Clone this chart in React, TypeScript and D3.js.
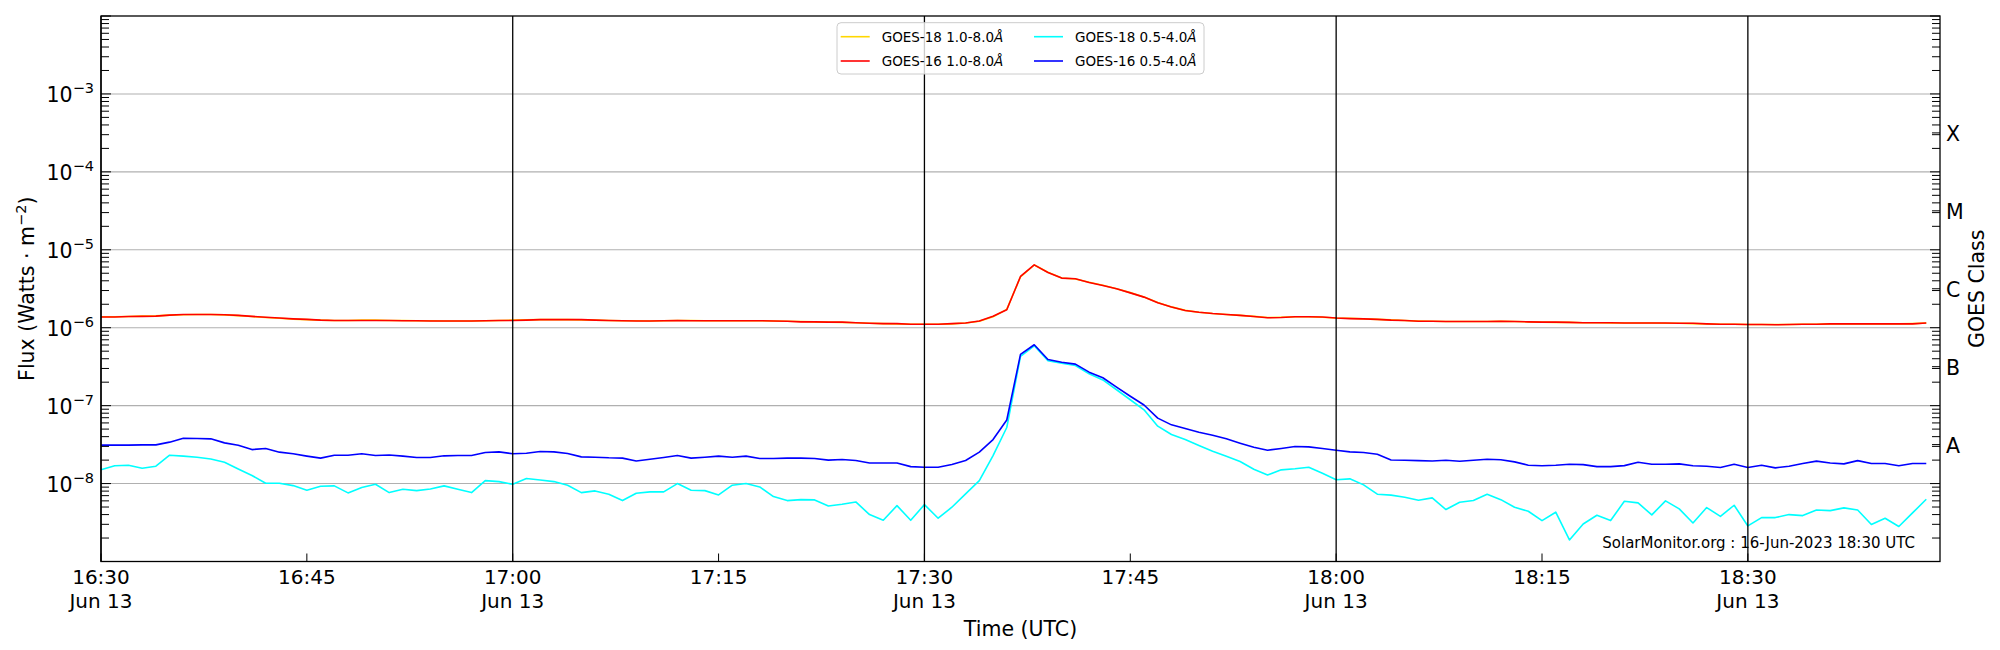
import React from "react";
import * as d3 from "d3";

// ---- time axis (1-minute cadence) ----
const START_UTC = "2023-06-13T16:30:00Z";
const END_UTC = "2023-06-13T18:44:00Z";
const CADENCE_MS = 60000;

// ---- series (mantissas; multiply by the unit) ----
const LONG_UNIT = 1e-6; // W m^-2
const G16_SHORT_UNIT = 1e-8;
const G18_SHORT_UNIT = 1e-9;

// GOES-18 1.0-8.0 Å (x1e-6)
const goes18Long = [
  1.38, 1.38, 1.39, 1.41, 1.42, 1.45, 1.47, 1.48, 1.48, 1.46,
  1.43, 1.39, 1.35, 1.32, 1.29, 1.27, 1.25, 1.24, 1.24, 1.25,
  1.25, 1.24, 1.24, 1.23, 1.23, 1.22, 1.22, 1.22, 1.23, 1.24,
  1.25, 1.26, 1.27, 1.27, 1.27, 1.26, 1.25, 1.24, 1.23, 1.23,
  1.22, 1.23, 1.24, 1.24, 1.23, 1.23, 1.23, 1.23, 1.23, 1.22,
  1.21, 1.2, 1.19, 1.18, 1.17, 1.16, 1.14, 1.13, 1.12, 1.11,
  1.11, 1.11, 1.12, 1.15, 1.21, 1.38, 1.72, 4.5, 6.38, 5.15,
  4.35, 4.22, 3.83, 3.5, 3.17, 2.82, 2.48, 2.11, 1.85, 1.67,
  1.58, 1.52, 1.48, 1.44, 1.4, 1.35, 1.36, 1.38, 1.38, 1.36,
  1.33, 1.32, 1.3, 1.28, 1.26, 1.24, 1.22, 1.21, 1.2, 1.2,
  1.2, 1.2, 1.21, 1.2, 1.19, 1.18, 1.17, 1.17, 1.16, 1.16,
  1.15, 1.15, 1.15, 1.15, 1.14, 1.14, 1.13, 1.12, 1.11, 1.11,
  1.1, 1.1, 1.1, 1.1, 1.11, 1.11, 1.12, 1.12, 1.12, 1.12,
  1.12, 1.12, 1.13, 1.15,
];

// GOES-16 1.0-8.0 Å (x1e-6)
const goes16Long = [
  1.37, 1.37, 1.39, 1.4, 1.41, 1.45, 1.48, 1.48, 1.48, 1.47,
  1.44, 1.4, 1.36, 1.33, 1.3, 1.28, 1.25, 1.24, 1.24, 1.24,
  1.24, 1.24, 1.23, 1.23, 1.22, 1.22, 1.22, 1.22, 1.23, 1.24,
  1.24, 1.25, 1.27, 1.27, 1.27, 1.27, 1.25, 1.24, 1.23, 1.22,
  1.22, 1.23, 1.24, 1.23, 1.23, 1.23, 1.23, 1.23, 1.23, 1.22,
  1.21, 1.19, 1.19, 1.18, 1.18, 1.16, 1.14, 1.13, 1.13, 1.11,
  1.11, 1.11, 1.13, 1.15, 1.22, 1.4, 1.7, 4.55, 6.41, 5.12,
  4.33, 4.24, 3.81, 3.48, 3.16, 2.8, 2.47, 2.09, 1.84, 1.66,
  1.58, 1.52, 1.48, 1.44, 1.39, 1.34, 1.35, 1.38, 1.38, 1.37,
  1.33, 1.31, 1.3, 1.28, 1.25, 1.24, 1.21, 1.21, 1.2, 1.2,
  1.2, 1.2, 1.21, 1.2, 1.19, 1.18, 1.18, 1.17, 1.16, 1.16,
  1.16, 1.15, 1.15, 1.15, 1.15, 1.14, 1.14, 1.12, 1.11, 1.11,
  1.1, 1.1, 1.09, 1.1, 1.11, 1.11, 1.12, 1.12, 1.12, 1.12,
  1.12, 1.12, 1.12, 1.15,
];

// GOES-18 0.5-4.0 Å (x1e-9)
const goes18Short = [
  15.0, 16.9, 17.2, 15.7, 16.7, 23.1, 22.5, 21.8, 20.7, 18.8,
  15.4, 12.7, 10.1, 10.1, 9.42, 8.2, 9.25, 9.34, 7.59, 8.89,
  9.8, 7.66, 8.45, 8.12, 8.53, 9.34, 8.45, 7.66, 10.9, 10.6,
  9.8, 11.6, 11.1, 10.6, 9.53, 7.66, 8.05, 7.3, 6.05, 7.52,
  7.82, 7.82, 10.0, 8.2, 8.12, 7.15, 9.53, 10.0, 9.06, 6.81,
  6.05, 6.22, 6.17, 5.16, 5.42, 5.81, 4.0, 3.38, 5.21, 3.38,
  5.37, 3.59, 4.97, 7.36, 10.9, 22.9, 52.4, 429, 586, 376,
  351, 327, 256, 214, 160, 119, 88.3, 54.5, 42.6, 36.7,
  30.8, 26.0, 22.4, 19.2, 15.3, 12.9, 15.0, 15.5, 16.2, 13.6,
  11.2, 11.5, 9.62, 7.31, 7.1, 6.69, 6.11, 6.55, 4.64, 5.76,
  6.05, 7.3, 6.22, 4.97, 4.41, 3.35, 4.29, 1.89, 3.03, 3.92,
  3.35, 5.93, 5.65, 3.96, 6.0, 4.73, 3.12, 4.92, 3.8, 5.27,
  2.86, 3.66, 3.66, 4.0, 3.88, 4.59, 4.5, 4.88, 4.59, 2.99,
  3.59, 2.81, 4.2, 6.3,
];

// GOES-16 0.5-4.0 Å (x1e-8)
const goes16Short = [
  3.11, 3.11, 3.11, 3.14, 3.14, 3.4, 3.82, 3.78, 3.75, 3.33,
  3.11, 2.73, 2.82, 2.53, 2.41, 2.25, 2.12, 2.31, 2.31, 2.41,
  2.29, 2.33, 2.25, 2.16, 2.16, 2.27, 2.29, 2.29, 2.5, 2.55,
  2.41, 2.45, 2.58, 2.55, 2.43, 2.2, 2.18, 2.14, 2.12, 1.95,
  2.05, 2.16, 2.29, 2.12, 2.18, 2.25, 2.18, 2.25, 2.1, 2.1,
  2.12, 2.12, 2.1, 2.0, 2.04, 1.98, 1.84, 1.84, 1.84, 1.65,
  1.62, 1.62, 1.76, 1.98, 2.53, 3.67, 6.55, 45.4, 60.4, 39.1,
  36.1, 34.1, 26.9, 22.8, 17.3, 13.2, 10.2, 6.91, 5.67, 5.09,
  4.56, 4.18, 3.75, 3.3, 2.93, 2.68, 2.82, 2.99, 2.96, 2.82,
  2.68, 2.55, 2.5, 2.38, 2.01, 1.99, 1.97, 1.95, 1.99, 1.93,
  1.99, 2.05, 2.02, 1.9, 1.72, 1.69, 1.72, 1.77, 1.75, 1.65,
  1.65, 1.7, 1.88, 1.77, 1.77, 1.79, 1.69, 1.67, 1.61, 1.77,
  1.61, 1.72, 1.59, 1.67, 1.81, 1.94, 1.84, 1.79, 1.97, 1.81,
  1.81, 1.69, 1.81, 1.81,
];

// ---- labels ----
const seriesNames = [
  "GOES-18 1.0-8.0",
  "GOES-16 1.0-8.0",
  "GOES-18 0.5-4.0",
  "GOES-16 0.5-4.0",
];
const seriesColors = ["#FFD700", "#FF0000", "#00FFFF", "#0000FF"];
const yTickExponents = [-9, -8, -7, -6, -5, -4, -3, -2];
const yLabeledExponents = [-8, -7, -6, -5, -4, -3];
const classLabels = ["A", "B", "C", "M", "X"];
const classCenterExponents = [-7.5, -6.5, -5.5, -4.5, -3.5];
const dateLabel = "Jun 13";
const watermark = "SolarMonitor.org : 16-Jun-2023 18:30 UTC";

const FONT = "DejaVu Sans, Verdana, sans-serif";

export default function App() {
  const W = 2000;
  const H = 650;
  const L = 101;
  const R = 1940;
  const T = 16;
  const B = 561.5;

  const start = new Date(START_UTC);
  const end = new Date(END_UTC);
  const x = d3.scaleUtc().domain([start, end]).range([L, R]);
  const y = d3.scaleLog().domain([1e-9, 1e-2]).range([B, T]);
  const tAt = (i: number) => new Date(start.getTime() + i * CADENCE_MS);

  const mk = (vals: number[], unit: number) =>
    d3
      .line<number>()
      .x((_, i) => x(tAt(i)))
      .y((d) => y(d * unit))(vals) || "";

  const paths = [
    mk(goes18Long, LONG_UNIT),
    mk(goes16Long, LONG_UNIT),
    mk(goes18Short, G18_SHORT_UNIT),
    mk(goes16Short, G16_SHORT_UNIT),
  ];

  const minorVals: number[] = [];
  for (let e = -9; e < -2; e++) {
    for (let k = 2; k <= 9; k++) minorVals.push(k * Math.pow(10, e));
  }

  const xTicks = d3.utcMinute.every(15)!.range(start, end);
  const halfHours = xTicks.filter((d) => d.getUTCMinutes() % 30 === 0);
  const fmt = d3.utcFormat("%H:%M");

  const legendRows = [36.7, 61];
  const legendCols = [840.7, 1034];

  return (
    <svg
      width={W}
      height={H}
      style={{ position: "absolute", left: 0, top: 0, background: "#fff" }}
      fontFamily={FONT}
    >
      <rect x={0} y={0} width={W} height={H} fill="#fff" />
      {/* grid */}
      {yLabeledExponents.map((e) => (
        <line
          key={"g" + e}
          x1={L}
          x2={R}
          y1={y(Math.pow(10, e))}
          y2={y(Math.pow(10, e))}
          stroke="#b0b0b0"
          strokeWidth={1.1}
        />
      ))}
      {/* data */}
      {paths.map((p, i) => (
        <path key={"s" + i} d={p} fill="none" stroke={seriesColors[i]} strokeWidth={1.6} strokeLinejoin="round" />
      ))}
      {/* vertical half-hour lines */}
      {halfHours.map((d, i) => (
        <line key={"v" + i} x1={x(d)} x2={x(d)} y1={T} y2={B} stroke="#000" strokeWidth={1.3} />
      ))}
      {/* major ticks */}
      {yTickExponents.map((e) => (
        <g key={"lt" + e}>
          <line x1={L} x2={L + 10} y1={y(Math.pow(10, e))} y2={y(Math.pow(10, e))} stroke="#000" strokeWidth={1} />
          <line x1={R} x2={R - 10} y1={y(Math.pow(10, e))} y2={y(Math.pow(10, e))} stroke="#000" strokeWidth={1} />
        </g>
      ))}
      {/* minor ticks */}
      {minorVals.map((v, i) => (
        <g key={"mt" + i}>
          <line x1={L} x2={L + 8} y1={y(v)} y2={y(v)} stroke="#000" strokeWidth={1} />
          <line x1={R} x2={R - 8} y1={y(v)} y2={y(v)} stroke="#000" strokeWidth={1} />
        </g>
      ))}
      {classCenterExponents.map((e, i) => (
        <line key={"ct" + i} x1={R} x2={R - 8} y1={y(Math.pow(10, e))} y2={y(Math.pow(10, e))} stroke="#000" strokeWidth={1} />
      ))}
      {/* bottom ticks */}
      {xTicks.map((d, i) => (
        <line key={"xt" + i} x1={x(d)} x2={x(d)} y1={B} y2={B - 8} stroke="#000" strokeWidth={1} />
      ))}
      {/* frame */}
      <rect x={L} y={T} width={R - L} height={B - T} fill="none" stroke="#000" strokeWidth={1.3} />
      {/* y tick labels */}
      {yLabeledExponents.map((e) => (
        <text key={"yl" + e} x={94} y={y(Math.pow(10, e)) + 8} textAnchor="end" fontSize={20.5} fill="#000">
          10
          <tspan dy={-8.5} fontSize={14.5}>
            {"\u2212" + Math.abs(e)}
          </tspan>
        </text>
      ))}
      {/* class labels */}
      {classLabels.map((c, i) => (
        <text key={"cl" + c} x={1946} y={y(Math.pow(10, classCenterExponents[i])) + 8.5} fontSize={20.5} fill="#000">
          {c}
        </text>
      ))}
      {/* x tick labels */}
      {xTicks.map((d, i) => (
        <text key={"xl" + i} x={x(d)} y={584} textAnchor="middle" fontSize={20} fill="#000">
          {fmt(d)}
          {d.getUTCMinutes() % 30 === 0 ? (
            <tspan x={x(d)} dy={24}>
              {dateLabel}
            </tspan>
          ) : null}
        </text>
      ))}
      {/* axis titles */}
      <text x={(L + R) / 2} y={636} textAnchor="middle" fontSize={20.5} fill="#000">
        Time (UTC)
      </text>
      <text transform={`translate(34,${(T + B) / 2}) rotate(-90)`} textAnchor="middle" fontSize={20.5} fill="#000">
        Flux (Watts · m
        <tspan dy={-8.5} fontSize={14.5}>
          {"\u22122"}
        </tspan>
        <tspan dy={8.5}>)</tspan>
      </text>
      <text transform={`translate(1983.5,${(T + B) / 2}) rotate(-90)`} textAnchor="middle" fontSize={20.5} fill="#000">
        GOES Class
      </text>
      {/* watermark */}
      <text x={1915} y={548} textAnchor="end" fontSize={15} fill="#000">
        {watermark}
      </text>
      {/* legend */}
      <rect x={837} y={22.7} width={367} height={51.3} rx={4} fill="#fff" fillOpacity={0.8} stroke="#cccccc" strokeWidth={1} />
      {seriesNames.map((n, i) => {
        const col = Math.floor(i / 2);
        const row = i % 2;
        const lx = legendCols[col];
        const ly = legendRows[row];
        return (
          <g key={"lg" + i}>
            <line x1={lx} x2={lx + 29} y1={ly} y2={ly} stroke={seriesColors[i]} strokeWidth={1.6} />
            <text x={lx + 41} y={ly + 5} fontSize={13.5} fill="#000">
              {n}
              <tspan fontStyle="italic">Å</tspan>
            </text>
          </g>
        );
      })}
    </svg>
  );
}
